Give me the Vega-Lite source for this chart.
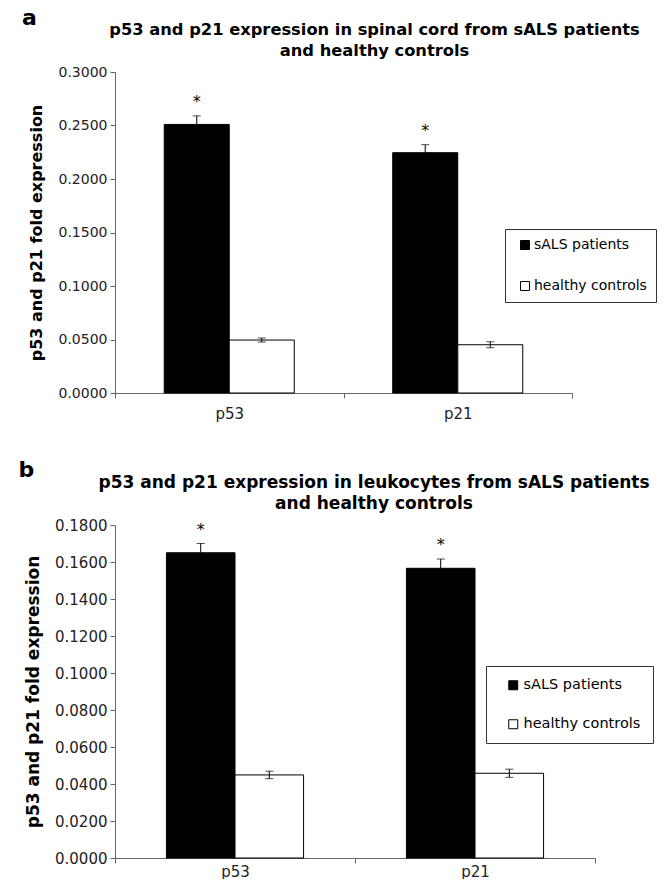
{
  "$schema": "https://vega.github.io/schema/vega-lite/v6.json",
  "background": "#ffffff",
  "padding": {"left": 18, "top": 6, "right": 0, "bottom": 0},
  "autosize": {"type": "pad"},
  "config": {
    "view": {"stroke": null},
    "concat": {"spacing": 38},
    "axis": {"domainColor": "#666666", "tickColor": "#666666", "labelFont": "DejaVu Sans", "titleFont": "DejaVu Sans", "labelColor": "#222222", "titleColor": "#000000", "grid": false, "tickSize": 5, "labelOverlap": false},
    "title": {"font": "DejaVu Sans", "fontWeight": "bold", "color": "#000000", "lineHeight": 21},
    "legend": {"labelFont": "DejaVu Sans", "labelColor": "#000000"}
  },
  "datasets": {
    "a": [
      {"gene": "p53", "group": "sALS patients", "value": 0.251, "lo": 0.243, "hi": 0.259, "sig": "*"},
      {"gene": "p53", "group": "healthy controls", "value": 0.0495, "lo": 0.0476, "hi": 0.0514, "sig": ""},
      {"gene": "p21", "group": "sALS patients", "value": 0.2246, "lo": 0.2171, "hi": 0.2321, "sig": "*"},
      {"gene": "p21", "group": "healthy controls", "value": 0.0451, "lo": 0.0423, "hi": 0.0479, "sig": ""}
    ],
    "b": [
      {"gene": "p53", "group": "sALS patients", "value": 0.165, "lo": 0.160, "hi": 0.170, "sig": "*"},
      {"gene": "p53", "group": "healthy controls", "value": 0.0449, "lo": 0.0429, "hi": 0.0469, "sig": ""},
      {"gene": "p21", "group": "sALS patients", "value": 0.1566, "lo": 0.1516, "hi": 0.1616, "sig": "*"},
      {"gene": "p21", "group": "healthy controls", "value": 0.0458, "lo": 0.0436, "hi": 0.0480, "sig": ""}
    ]
  },
  "resolve": {"scale": {"x": "independent", "y": "independent", "color": "independent", "xOffset": "independent"}, "legend": {"color": "independent"}, "axis": {"x": "independent", "y": "independent"}},
  "vconcat": [
    {
      "title": {"text": "a", "fontSize": 22, "anchor": "start", "frame": "bounds", "offset": -8, "dx": -6},
      "resolve": {"scale": {"x": "independent", "y": "independent", "color": "independent", "xOffset": "independent"}, "legend": {"color": "independent"}},
      "vconcat": [
        {
          "width": 457,
          "height": 321,
          "title": {"text": ["p53 and p21 expression in spinal cord from sALS patients", "and healthy controls"], "fontSize": 16.3, "anchor": "middle", "frame": "group", "dx": 31, "offset": 6},
          "data": {"name": "a"},
          "layer": [
            {
              "mark": {"type": "bar", "stroke": "#000000", "strokeWidth": 1},
              "encoding": {
                "x": {"field": "gene", "type": "nominal", "sort": ["p53", "p21"], "scale": {"paddingInner": 0, "paddingOuter": 0},
                  "axis": {"title": null, "labelAngle": 0, "tickBand": "extent", "labelFontSize": 15, "labelPadding": 8}},
                "xOffset": {"field": "group", "type": "nominal", "sort": ["sALS patients", "healthy controls"], "scale": {"paddingInner": 0, "paddingOuter": 0.757}},
                "y": {"field": "value", "type": "quantitative", "scale": {"domain": [0, 0.3], "nice": false},
                  "axis": {"values": [0, 0.05, 0.1, 0.15, 0.2, 0.25, 0.3], "format": ".4f", "labelOverlap": false, "title": "p53 and p21 fold expression", "titleFontSize": 16, "titleFontWeight": "bold", "labelFontSize": 14, "labelPadding": 3, "titlePadding": 14}},
                "color": {"field": "group", "type": "nominal", "sort": ["sALS patients", "healthy controls"],
                  "scale": {"domain": ["sALS patients", "healthy controls"], "range": ["#000000", "#ffffff"]},
                  "legend": {"orient": "none", "legendX": 390, "legendY": 157, "title": null, "padding": 9, "symbolOffset": 4, "rowPadding": 27, "strokeColor": "#333333", "fillColor": "#ffffff", "labelFontSize": 14, "symbolType": "square", "symbolSize": 81, "labelOffset": 2, "symbolStrokeColor": "#000000", "symbolStrokeWidth": 1}}
              }
            },
            {
              "mark": {"type": "rule", "color": "#000000", "strokeWidth": 1},
              "encoding": {
                "x": {"field": "gene", "type": "nominal", "sort": ["p53", "p21"]},
                "xOffset": {"field": "group", "type": "nominal", "sort": ["sALS patients", "healthy controls"]},
                "y": {"field": "lo", "type": "quantitative",
                  "axis": {"values": [0, 0.05, 0.1, 0.15, 0.2, 0.25, 0.3], "format": ".4f", "labelOverlap": false, "title": "p53 and p21 fold expression", "titleFontSize": 16, "titleFontWeight": "bold", "labelFontSize": 14, "labelPadding": 3, "titlePadding": 14}},
                "y2": {"field": "hi"}
              }
            },
            {
              "mark": {"type": "tick", "color": "#000000", "size": 8, "thickness": 1},
              "encoding": {
                "x": {"field": "gene", "type": "nominal", "sort": ["p53", "p21"]},
                "xOffset": {"field": "group", "type": "nominal", "sort": ["sALS patients", "healthy controls"]},
                "y": {"field": "hi", "type": "quantitative",
                  "axis": {"values": [0, 0.05, 0.1, 0.15, 0.2, 0.25, 0.3], "format": ".4f", "labelOverlap": false, "title": "p53 and p21 fold expression", "titleFontSize": 16, "titleFontWeight": "bold", "labelFontSize": 14, "labelPadding": 3, "titlePadding": 14}}
              }
            },
            {
              "mark": {"type": "tick", "color": "#000000", "size": 8, "thickness": 1},
              "encoding": {
                "x": {"field": "gene", "type": "nominal", "sort": ["p53", "p21"]},
                "xOffset": {"field": "group", "type": "nominal", "sort": ["sALS patients", "healthy controls"]},
                "y": {"field": "lo", "type": "quantitative",
                  "axis": {"values": [0, 0.05, 0.1, 0.15, 0.2, 0.25, 0.3], "format": ".4f", "labelOverlap": false, "title": "p53 and p21 fold expression", "titleFontSize": 16, "titleFontWeight": "bold", "labelFontSize": 14, "labelPadding": 3, "titlePadding": 14}}
              }
            },
            {
              "mark": {"type": "text", "baseline": "alphabetic", "dy": -9, "fontSize": 16, "font": "DejaVu Sans", "color": "#000000"},
              "encoding": {
                "x": {"field": "gene", "type": "nominal", "sort": ["p53", "p21"]},
                "xOffset": {"field": "group", "type": "nominal", "sort": ["sALS patients", "healthy controls"]},
                "y": {"field": "hi", "type": "quantitative",
                  "axis": {"values": [0, 0.05, 0.1, 0.15, 0.2, 0.25, 0.3], "format": ".4f", "labelOverlap": false, "title": "p53 and p21 fold expression", "titleFontSize": 16, "titleFontWeight": "bold", "labelFontSize": 14, "labelPadding": 3, "titlePadding": 14}},
                "text": {"field": "sig"}
              }
            }
          ]
        }
      ]
    },
    {
      "title": {"text": "b", "fontSize": 22, "anchor": "start", "frame": "bounds", "offset": -8, "dx": -6},
      "resolve": {"scale": {"x": "independent", "y": "independent", "color": "independent", "xOffset": "independent"}, "legend": {"color": "independent"}},
      "vconcat": [
        {
          "width": 480,
          "height": 333,
          "title": {"text": ["p53 and p21 expression in leukocytes from sALS patients", "and healthy controls"], "fontSize": 17, "anchor": "middle", "frame": "group", "dx": 19, "offset": 5},
          "data": {"name": "b"},
          "layer": [
            {
              "mark": {"type": "bar", "stroke": "#000000", "strokeWidth": 1},
              "encoding": {
                "x": {"field": "gene", "type": "nominal", "sort": ["p53", "p21"], "scale": {"paddingInner": 0, "paddingOuter": 0},
                  "axis": {"title": null, "labelAngle": 0, "tickBand": "extent", "labelFontSize": 15, "labelPadding": 1}},
                "xOffset": {"field": "group", "type": "nominal", "sort": ["sALS patients", "healthy controls"], "scale": {"paddingInner": 0, "paddingOuter": 0.75}},
                "y": {"field": "value", "type": "quantitative", "scale": {"domain": [0, 0.18], "nice": false},
                  "axis": {"values": [0, 0.02, 0.04, 0.06, 0.08, 0.1, 0.12, 0.14, 0.16, 0.18], "format": ".4f", "labelOverlap": false, "title": "p53 and p21 fold expression", "titleFontSize": 17, "titleFontWeight": "bold", "labelFontSize": 15, "labelPadding": 3, "titlePadding": 12}},
                "color": {"field": "group", "type": "nominal", "sort": ["sALS patients", "healthy controls"],
                  "scale": {"domain": ["sALS patients", "healthy controls"], "range": ["#000000", "#ffffff"]},
                  "legend": {"orient": "none", "legendX": 371, "legendY": 141, "title": null, "padding": 12, "symbolOffset": 8, "rowPadding": 24, "strokeColor": "#333333", "fillColor": "#ffffff", "labelFontSize": 14.5, "symbolType": "square", "symbolSize": 81, "labelOffset": 3, "symbolStrokeColor": "#000000", "symbolStrokeWidth": 1}}
              }
            },
            {
              "mark": {"type": "rule", "color": "#000000", "strokeWidth": 1},
              "encoding": {
                "x": {"field": "gene", "type": "nominal", "sort": ["p53", "p21"]},
                "xOffset": {"field": "group", "type": "nominal", "sort": ["sALS patients", "healthy controls"]},
                "y": {"field": "lo", "type": "quantitative",
                  "axis": {"values": [0, 0.02, 0.04, 0.06, 0.08, 0.1, 0.12, 0.14, 0.16, 0.18], "format": ".4f", "labelOverlap": false, "title": "p53 and p21 fold expression", "titleFontSize": 17, "titleFontWeight": "bold", "labelFontSize": 15, "labelPadding": 3, "titlePadding": 12}},
                "y2": {"field": "hi"}
              }
            },
            {
              "mark": {"type": "tick", "color": "#000000", "size": 8, "thickness": 1},
              "encoding": {
                "x": {"field": "gene", "type": "nominal", "sort": ["p53", "p21"]},
                "xOffset": {"field": "group", "type": "nominal", "sort": ["sALS patients", "healthy controls"]},
                "y": {"field": "hi", "type": "quantitative",
                  "axis": {"values": [0, 0.02, 0.04, 0.06, 0.08, 0.1, 0.12, 0.14, 0.16, 0.18], "format": ".4f", "labelOverlap": false, "title": "p53 and p21 fold expression", "titleFontSize": 17, "titleFontWeight": "bold", "labelFontSize": 15, "labelPadding": 3, "titlePadding": 12}}
              }
            },
            {
              "mark": {"type": "tick", "color": "#000000", "size": 8, "thickness": 1},
              "encoding": {
                "x": {"field": "gene", "type": "nominal", "sort": ["p53", "p21"]},
                "xOffset": {"field": "group", "type": "nominal", "sort": ["sALS patients", "healthy controls"]},
                "y": {"field": "lo", "type": "quantitative",
                  "axis": {"values": [0, 0.02, 0.04, 0.06, 0.08, 0.1, 0.12, 0.14, 0.16, 0.18], "format": ".4f", "labelOverlap": false, "title": "p53 and p21 fold expression", "titleFontSize": 17, "titleFontWeight": "bold", "labelFontSize": 15, "labelPadding": 3, "titlePadding": 12}}
              }
            },
            {
              "mark": {"type": "text", "baseline": "alphabetic", "dy": -9, "fontSize": 16, "font": "DejaVu Sans", "color": "#000000"},
              "encoding": {
                "x": {"field": "gene", "type": "nominal", "sort": ["p53", "p21"]},
                "xOffset": {"field": "group", "type": "nominal", "sort": ["sALS patients", "healthy controls"]},
                "y": {"field": "hi", "type": "quantitative",
                  "axis": {"values": [0, 0.02, 0.04, 0.06, 0.08, 0.1, 0.12, 0.14, 0.16, 0.18], "format": ".4f", "labelOverlap": false, "title": "p53 and p21 fold expression", "titleFontSize": 17, "titleFontWeight": "bold", "labelFontSize": 15, "labelPadding": 3, "titlePadding": 12}},
                "text": {"field": "sig"}
              }
            }
          ]
        }
      ]
    }
  ]
}
